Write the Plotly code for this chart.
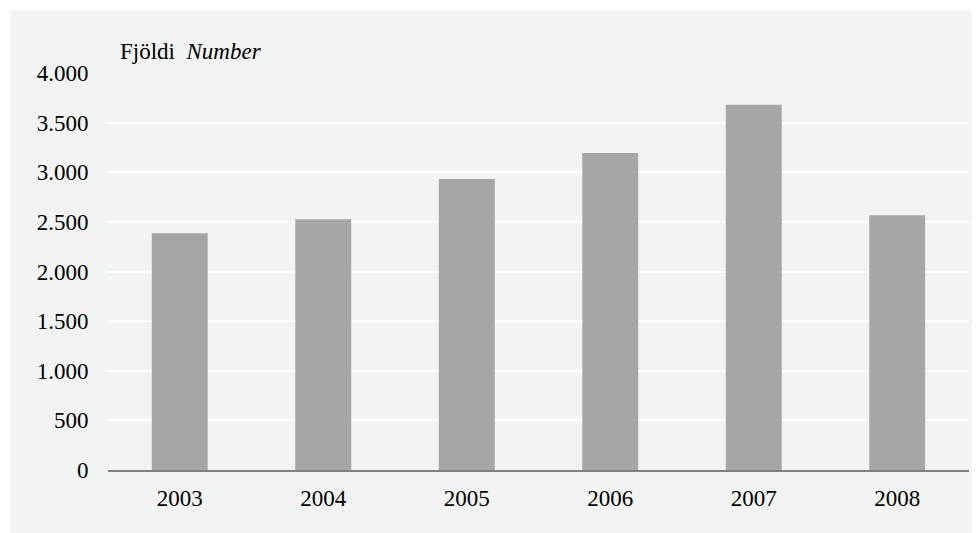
import plotly.graph_objects as go

years = ["2003", "2004", "2005", "2006", "2007", "2008"]
values = [2386, 2527, 2931, 3194, 3679, 2568]
y_tickvals = [0, 500, 1000, 1500, 2000, 2500, 3000, 3500, 4000]
y_ticktext = ["0", "500", "1.000", "1.500", "2.000", "2.500", "3.000", "3.500", "4.000"]

FONT = "Liberation Serif"
FS = 23

L, R, T, B = 100, 11, 65, 63
W, H = 972, 525
PW, PH = W - L - R, H - T - B

fig = go.Figure()
fig.add_trace(go.Bar(x=years, y=values, marker=dict(color="#a6a6a6", line=dict(width=0)),
                     hoverinfo="x+y"))

fig.update_layout(
    width=W, height=H,
    paper_bgcolor="white",
    plot_bgcolor="#dcdcdc",
    margin=dict(l=L, r=R, t=T, b=B),
    bargap=0.61,
    showlegend=False,
    font=dict(family=FONT, size=FS, color="black"),
    shapes=[dict(type="rect", xref="paper", yref="paper", layer="below",
                 x0=-(L - 2) / PW, x1=1 + R / PW, y0=-B / PH, y1=1 + (T - 2) / PH,
                 fillcolor="#f2f4f3", line=dict(width=0))],
    annotations=[dict(text="Fjöldi  <i>Number</i>", xref="paper", yref="paper",
                      x=10 / PW, y=1 + 21 / PH, xanchor="left", yanchor="middle",
                      showarrow=False, font=dict(family=FONT, size=FS, color="black"))],
)
fig.update_xaxes(showgrid=False, showline=True, linecolor="#808080", linewidth=2,
                 ticks="outside", ticklen=6, tickcolor="rgba(0,0,0,0)",
                 tickfont=dict(family=FONT, size=FS, color="black"))
fig.update_yaxes(range=[0, 4000], tickvals=y_tickvals, ticktext=y_ticktext,
                 showgrid=True, gridcolor="white", gridwidth=2, zeroline=False,
                 showline=False, ticks="outside", ticklen=14, tickcolor="rgba(0,0,0,0)",
                 tickfont=dict(family=FONT, size=FS, color="black"))

fig.write_html("out.html")
